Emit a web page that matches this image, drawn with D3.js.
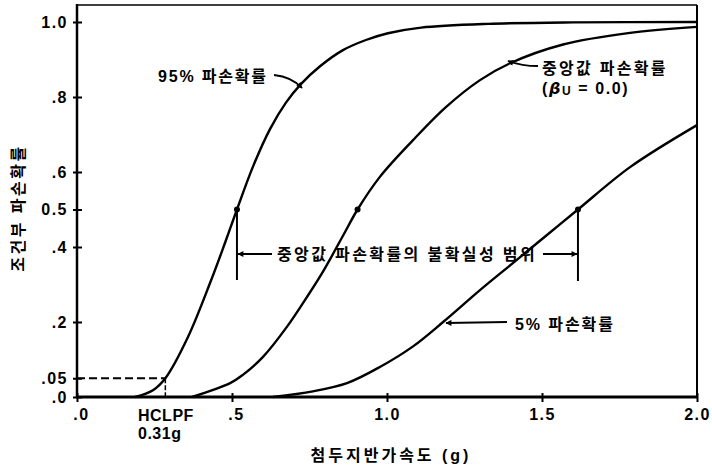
<!DOCTYPE html>
<html><head><meta charset="utf-8">
<script src="https://cdn.jsdelivr.net/npm/d3@7"></script>
<style>
body{margin:0;background:#fff;}
svg{display:block;font-family:"Liberation Sans","Noto Sans CJK KR",sans-serif;font-weight:bold;}
</style></head>
<body><div id="chart"></div>
<script>
// ---- data ----
const xTicks = [0, 0.5, 1.0, 1.5, 2.0];
const xTickLabels = [".0", ".5", "1.0", "1.5", "2.0"];
const yTicks = [0, 0.05, 0.2, 0.4, 0.5, 0.6, 0.8, 1.0];
const yTickLabels = [".0", ".05", ".2", ".4", "0.5", ".6", ".8", "1.0"];

const curve95 = [[0.187,0],[0.245,0.018],[0.285,0.05],[0.358,0.16],[0.432,0.31],[0.477,0.41],[0.516,0.5],
  [0.568,0.615],[0.623,0.715],[0.674,0.785],[0.723,0.835],[0.784,0.882],[0.858,0.925],[0.932,0.952],
  [1.003,0.970],[1.11,0.985],[1.326,0.995],[1.6,0.999],[2.0,1.0]];
const curveMedian = [[0.371,0],[0.494,0.037],[0.535,0.059],[0.6,0.107],[0.677,0.187],[0.742,0.267],[0.794,0.335],
  [0.858,0.43],[0.905,0.5],[0.977,0.587],[1.084,0.685],[1.19,0.773],[1.3,0.845],[1.397,0.89],
  [1.568,0.94],[1.784,0.971],[2.0,0.987]];
const curve5 = [[0.632,0],[0.761,0.015],[0.871,0.037],[0.977,0.08],[1.084,0.135],[1.181,0.2],[1.3,0.285],
  [1.406,0.357],[1.516,0.432],[1.616,0.5],[1.784,0.613],[2.0,0.725]];
const medians = [0.516, 0.905, 1.616];
const hclpf = {x: 0.285, p: 0.05};

// ---- chart ----
const W = 712, H = 468;
const svg = d3.select("#chart").append("svg").attr("width", W).attr("height", H);
const x = d3.scaleLinear().domain([0, 2]).range([77, 697]);
const y = d3.scaleLinear().domain([0, 1]).range([397, 22]);

const defs = svg.append("defs");
defs.append("marker").attr("id","ah").attr("viewBox","0 0 10 10").attr("refX",9).attr("refY",5)
  .attr("markerWidth",9).attr("markerHeight",6).attr("orient","auto-start-reverse").attr("markerUnits","userSpaceOnUse")
  .append("path").attr("d","M0,0L10,5L0,10Z").attr("fill","#000");

// frame top/right
svg.append("line").attr("x1",x(0)).attr("x2",x(2)).attr("y1",5).attr("y2",5).attr("stroke","#000").attr("stroke-width",1.5);
svg.append("line").attr("x1",x(2)).attr("x2",x(2)).attr("y1",5).attr("y2",y(0)).attr("stroke","#000").attr("stroke-width",2);

// axes
const xAxis = d3.axisBottom(x).tickValues(xTicks).tickFormat((d,i)=>xTickLabels[i]).tickSizeInner(0).tickSizeOuter(0).tickPadding(12);
const gx = svg.append("g").attr("transform",`translate(0,${y(0)})`).call(xAxis);
gx.select(".domain").remove();
gx.selectAll("text").attr("font-size",16).attr("font-weight","bold").attr("fill","#000")
  .attr("font-family","Liberation Sans, sans-serif").attr("letter-spacing","1.5px")
  .attr("dx",(d,i)=>xTickLabels[i][0]==="." ? 4 : 0);
gx.selectAll(".tick").append("line").attr("y1",-4).attr("y2",5).attr("stroke","#000").attr("stroke-width",2);

const yAxis = d3.axisLeft(y).tickValues(yTicks).tickFormat((d,i)=>yTickLabels[i]).tickSizeInner(0).tickSizeOuter(0).tickPadding(9);
const gy = svg.append("g").attr("transform",`translate(${x(0)},0)`).call(yAxis);
gy.select(".domain").remove();
gy.selectAll("text").attr("font-size",16).attr("font-weight","bold").attr("fill","#000")
  .attr("font-family","Liberation Sans, sans-serif").attr("letter-spacing","1.5px");
gy.selectAll(".tick").append("line").attr("x1",-4).attr("x2",5).attr("stroke","#000").attr("stroke-width",2);

svg.append("line").attr("x1",x(0)).attr("x2",x(0)).attr("y1",4).attr("y2",y(0)+1).attr("stroke","#000").attr("stroke-width",2.5);
svg.append("line").attr("x1",x(0)-1).attr("x2",x(2)+1).attr("y1",y(0)).attr("y2",y(0)).attr("stroke","#000").attr("stroke-width",3);

// curves
const line = d3.line().x(d=>x(d[0])).y(d=>y(d[1])).curve(d3.curveCatmullRom.alpha(0.5));
[curve95, curveMedian, curve5].forEach(c=>{
  svg.append("path").datum(c).attr("d",line).attr("fill","none").attr("stroke","#000").attr("stroke-width",2.4);
});

// median dots
medians.forEach(m=>{
  svg.append("circle").attr("cx",x(m)).attr("cy",y(0.5)).attr("r",3).attr("fill","#000");
});

// HCLPF dashed lines
svg.append("line").attr("x1",x(0)).attr("x2",x(hclpf.x)).attr("y1",y(hclpf.p)).attr("y2",y(hclpf.p))
  .attr("stroke","#000").attr("stroke-width",2).attr("stroke-dasharray","8,4");
svg.append("line").attr("x1",x(hclpf.x)).attr("x2",x(hclpf.x)).attr("y1",y(hclpf.p)).attr("y2",y(0))
  .attr("stroke","#000").attr("stroke-width",1.5).attr("stroke-dasharray","5,2");

// uncertainty bracket
const xl = x(medians[0]), xr = x(medians[2]);
svg.append("line").attr("x1",xl).attr("x2",xl).attr("y1",y(0.5)).attr("y2",280).attr("stroke","#000").attr("stroke-width",2);
svg.append("line").attr("x1",xr).attr("x2",xr).attr("y1",y(0.5)).attr("y2",281).attr("stroke","#000").attr("stroke-width",2);
svg.append("line").attr("x1",272).attr("x2",xl+1).attr("y1",254).attr("y2",254).attr("stroke","#000").attr("stroke-width",1.8).attr("marker-end","url(#ah)");
svg.append("line").attr("x1",543).attr("x2",xr-1).attr("y1",254).attr("y2",254).attr("stroke","#000").attr("stroke-width",1.8).attr("marker-end","url(#ah)");

function label(t, px, py, size, anchor, ls){
  return svg.append("text").attr("x",px).attr("y",py).attr("font-size",size).attr("font-weight","bold")
    .attr("text-anchor",anchor||"start").attr("dominant-baseline","central").attr("letter-spacing",(ls||1)+"px").text(t);
}
label("중앙값 파손확률의 불확실성 범위", 407, 254, 16, "middle", 2.4);

// 95% label + arrow
label("95% 파손확률", 158, 76, 16, "start", 1.8);
svg.append("path").attr("d","M274,75 Q292,77 302,88").attr("fill","none").attr("stroke","#000").attr("stroke-width",1.8).attr("marker-end","url(#ah)");

// median label + arrow
label("중앙값 파손확률", 542, 68, 16, "start", 2.3);
const bt = svg.append("text").attr("x",542).attr("y",88).attr("font-size",16).attr("font-weight","bold")
  .attr("dominant-baseline","central").attr("letter-spacing","1.6px");
bt.append("tspan").text("(");
bt.append("tspan").attr("font-style","italic").attr("font-family","DejaVu Sans, sans-serif").text("β");
bt.append("tspan").attr("font-size",12).attr("dy",3).text("U");
bt.append("tspan").attr("dy",-3).text(" = 0.0)");
svg.append("path").attr("d","M538,66 Q522,66 508,61").attr("fill","none").attr("stroke","#000").attr("stroke-width",1.8).attr("marker-end","url(#ah)");

// 5% label + arrow
label("5% 파손확률", 515, 324, 16, "start", 1.9);
svg.append("line").attr("x1",507).attr("x2",446).attr("y1",322).attr("y2",323).attr("stroke","#000").attr("stroke-width",1.8).attr("marker-end","url(#ah)");

// HCLPF label
label("HCLPF", 138, 415, 16, "start", 0.5);
label("0.31g", 138, 433, 16, "start", 0.5);

// axis titles
label("첨두지반가속도 (g)", 391, 455, 16, "middle", 3);
svg.append("text").attr("transform","translate(18,208) rotate(-90)").attr("font-size",16).attr("font-weight","bold")
  .attr("text-anchor","middle").attr("dominant-baseline","central").attr("letter-spacing","2.5px").text("조건부 파손확률");
</script></body></html>
